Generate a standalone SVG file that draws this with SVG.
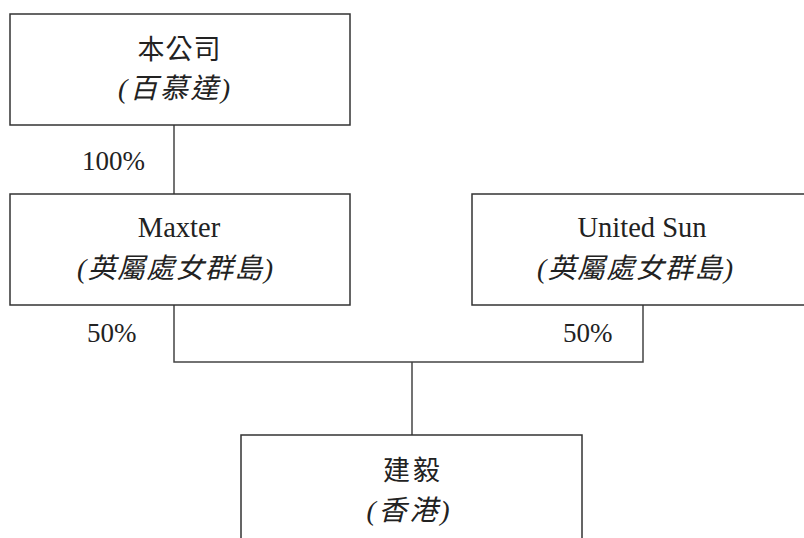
<svg xmlns="http://www.w3.org/2000/svg" width="804" height="538" viewBox="0 0 804 538">
<style>
.box{fill:#fff;stroke:#333;stroke-width:1.5}
.con{fill:none;stroke:#444;stroke-width:1.5}
text{font-family:"Liberation Serif","Noto Sans CJK TC",serif;font-size:27px;fill:#222}
.n{font-size:28.5px}
.c{text-anchor:middle}
.i{font-style:italic;font-size:28px}
</style>
<rect width="804" height="538" fill="#fff"/>
<g id="connectors">
<line class="con" x1="174" y1="125" x2="174" y2="194"/>
<path class="con" d="M174,305 V362 H643 V305"/>
<line class="con" x1="412" y1="362" x2="412" y2="435"/>
</g>
<g id="node-company">
<rect class="box" x="10" y="14" width="340" height="111"/>
<text class="c" x="179" y="59" textLength="83" lengthAdjust="spacing">本公司</text>
<text class="c i" x="174" y="98" textLength="112" lengthAdjust="spacing">(百慕達)</text>
</g>
<g id="node-maxter">
<rect class="box" x="10" y="194" width="340" height="111"/>
<text class="c n" x="179" y="237">Maxter</text>
<text class="c i" x="175" y="278" textLength="196" lengthAdjust="spacing">(英屬處女群島)</text>
</g>
<g id="node-unitedsun">
<rect class="box" x="472" y="194" width="340" height="111"/>
<text class="c n" x="642" y="237">United Sun</text>
<text class="c i" x="635" y="278" textLength="196" lengthAdjust="spacing">(英屬處女群島)</text>
</g>
<g id="node-jianyi">
<rect class="box" x="241" y="435" width="341" height="120"/>
<text class="c" x="411.5" y="480" textLength="57" lengthAdjust="spacing">建毅</text>
<text class="c i" x="408" y="520" textLength="83" lengthAdjust="spacing">(香港)</text>
</g>
<g id="labels">
<text x="82" y="170">100%</text>
<text x="87" y="342">50%</text>
<text x="563" y="342">50%</text>
</g>
</svg>
